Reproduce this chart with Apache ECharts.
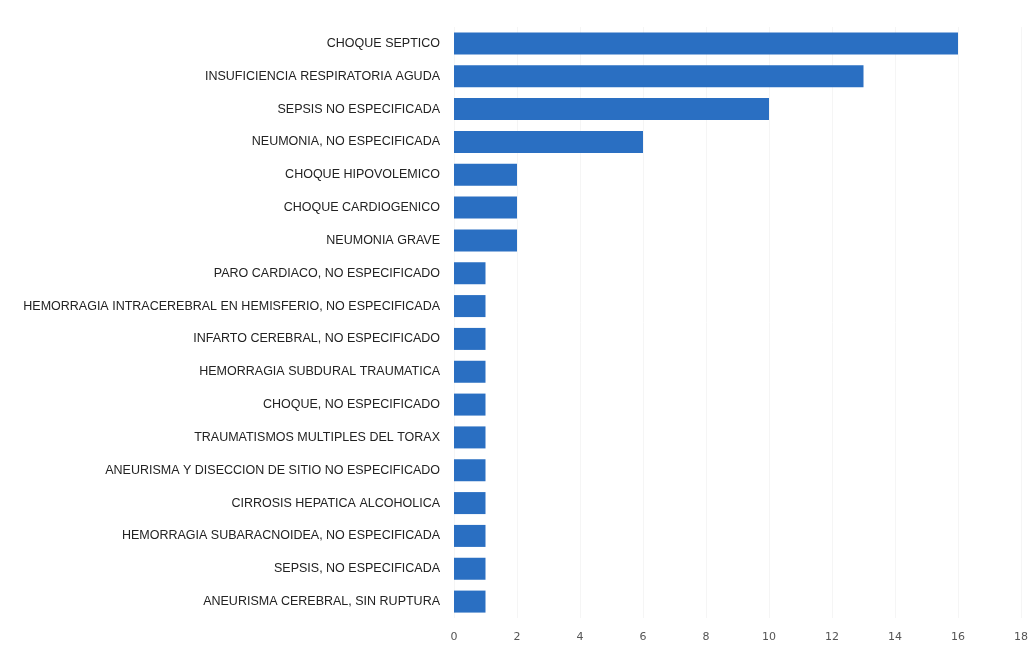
<!DOCTYPE html>
<html>
<head>
<meta charset="utf-8">
<script src="https://cdn.jsdelivr.net/npm/echarts@6/dist/echarts.min.js"></script>
<style>
  html, body { margin: 0; padding: 0; background: #fff; }
  #chart { width: 1035px; height: 648px; }
</style>
</head>
<body>
<div id="chart"></div>
<script>
// causas, de arriba hacia abajo
const causas = [
  'CHOQUE SEPTICO',
  'INSUFICIENCIA RESPIRATORIA AGUDA',
  'SEPSIS NO ESPECIFICADA',
  'NEUMONIA, NO ESPECIFICADA',
  'CHOQUE HIPOVOLEMICO',
  'CHOQUE CARDIOGENICO',
  'NEUMONIA GRAVE',
  'PARO CARDIACO, NO ESPECIFICADO',
  'HEMORRAGIA INTRACEREBRAL EN HEMISFERIO, NO ESPECIFICADA',
  'INFARTO CEREBRAL, NO ESPECIFICADO',
  'HEMORRAGIA SUBDURAL TRAUMATICA',
  'CHOQUE, NO ESPECIFICADO',
  'TRAUMATISMOS MULTIPLES DEL TORAX',
  'ANEURISMA Y DISECCION DE SITIO NO ESPECIFICADO',
  'CIRROSIS HEPATICA ALCOHOLICA',
  'HEMORRAGIA SUBARACNOIDEA, NO ESPECIFICADA',
  'SEPSIS, NO ESPECIFICADA',
  'ANEURISMA CEREBRAL, SIN RUPTURA'
];
const casos = [16, 13, 10, 6, 2, 2, 2, 1, 1, 1, 1, 1, 1, 1, 1, 1, 1, 1];

const chart = echarts.init(document.getElementById('chart'));

var option = {
  animation: false,
  grid: {
    left: 454,
    right: 14,
    top: 27,
    bottom: 30
  },
  xAxis: {
    type: 'value',
    min: 0,
    max: 18,
    interval: 2,
    axisLine: { show: false },
    axisTick: { show: false },
    splitLine: { lineStyle: { color: '#f5f5f5' } },
    axisLabel: {
      color: '#555',
      fontFamily: 'DejaVu Sans',
      fontSize: 11,
      margin: 14
    }
  },
  yAxis: {
    type: 'category',
    inverse: true,
    data: causas,
    axisLine: { show: false },
    axisTick: { show: false },
    axisLabel: {
      color: '#222',
      fontFamily: 'Liberation Sans, Arial',
      fontSize: 12.5,
      margin: 14
    }
  },
  series: [{
    type: 'bar',
    data: casos,
    barCategoryGap: '33%',
    itemStyle: { color: '#2a6fc2' }
  }]
};

chart.setOption(option);
</script>
</body>
</html>
